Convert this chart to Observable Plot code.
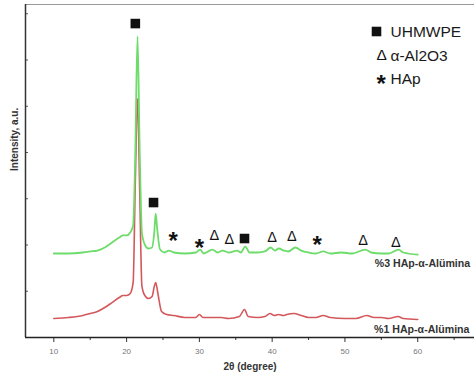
<!DOCTYPE html>
<html>
<head>
<meta charset="utf-8">
<script src="https://cdn.jsdelivr.net/npm/d3@7"></script>
<script src="https://cdn.jsdelivr.net/npm/@observablehq/plot@0.6"></script>
<style>
  html, body { margin: 0; padding: 0; background: #fff; overflow: hidden; }
  #chart svg { display: block; font-family: "Liberation Sans", Arial, sans-serif; }
</style>
</head>
<body>
<div id="chart"></div>
<script>
// 2θ (degree) and intensity (a.u.)
const green2theta = [10,12,14,15,16,17,18,19,19.5,20,20.5,20.9,21.2,21.5,21.8,22.1,22.5,23,23.5,23.8,24,24.2,24.6,25.2,25.8,26.5,28,29.5,30.1,30.6,31.8,32.5,33.2,34,35.2,35.7,36.3,36.9,38,39,39.8,40.4,40.9,41.6,42.2,43.2,44,45,46,47,48,49.5,51,52.8,53.6,55,56,57.4,58,60];
const greenI      = [908,908,919,930,940,973,1027,1081,1103,1103,1135,1211,2021,3254,2021,1135,1005,962,973,1135,1340,1178,951,919,940,919,908,919,951,908,951,919,940,919,940,919,984,919,919,930,973,940,962,940,930,973,940,919,908,930,908,919,908,951,919,908,908,951,919,897];
const red2theta   = [10,12,14,15,16,17,18,19,19.5,20,20.5,20.9,21.2,21.5,21.8,22.1,22.5,23,23.5,23.8,24,24.3,24.8,25.5,26.5,28,29.5,30,30.5,32,33,34,35.5,36.2,36.7,38,39,39.7,40.3,40.9,41.5,42,43,44,45,46,47,48,50,51.5,53,54,55,56,57.3,58,60];
const redI        = [205,216,238,259,281,324,378,432,454,454,476,595,1697,2584,1589,562,454,422,443,551,595,476,281,249,238,216,216,249,216,216,216,205,227,303,227,216,227,259,238,249,238,249,259,238,216,216,238,216,205,205,238,216,216,205,227,205,195];

// peak markers
const squares2theta = [21.2, 23.7, 36.2];
const squaresI      = [3394, 1459, 1070];
const triangles2theta = [32.05, 34.1, 40.0, 42.7, 52.5, 57.0];
const trianglesI      = [1103, 1059, 1081, 1092, 1049, 1027];
const stars2theta = [26.4, 30.0, 46.2];
const starsI      = [1103, 1027, 1059];

// series labels
const seriesNames = ["%3 HAp-α-Alümina", "%1 HAp-α-Alümina"];
const seriesLabel2theta = [54.1, 54.0];
const seriesLabelI = [800, 86];

// legend
const legendNames = ["UHMWPE", "α-Al2O3", "HAp"];
const legendGlyphs = [null, "Δ", "*"];

// axes
const xDomain = [6.11, 67.8];
const yDomain = [0, 3600];
const xMajor = [10, 20, 30, 40, 50, 60];
const xMinor = [15, 25, 35, 45, 55, 65];
const yTicks = [500, 1000, 1500, 2000, 2500, 3000, 3500];

const green = green2theta.map((x, i) => ({x, y: greenI[i]}));
const red = red2theta.map((x, i) => ({x, y: redI[i]}));
const sq = squares2theta.map((x, i) => ({x, y: squaresI[i]}));
const tri = triangles2theta.map((x, i) => ({x, y: trianglesI[i]}));
const st = stars2theta.map((x, i) => ({x, y: starsI[i]}));
const labels = seriesNames.map((t, i) => ({t, x: seriesLabel2theta[i], y: seriesLabelI[i]}));

const font = "Liberation Sans, Arial, sans-serif";

const legendMarks = [];
legendNames.forEach((name, i) => {
  legendMarks.push(Plot.text([name], {text: d => d, frameAnchor: "top-left", dx: 365, dy: 28 + i * 23.5,
    textAnchor: "start", lineAnchor: "middle", fontSize: 15.5, fill: "#1a1a1a", fontFamily: font}));
});

const chart = Plot.plot({
  width: 474,
  height: 376,
  marginLeft: 25,
  marginRight: 0,
  marginTop: 4,
  marginBottom: 39,
  style: {fontFamily: font, background: "#fff", overflow: "hidden"},
  x: {domain: xDomain},
  y: {domain: yDomain},
  marks: [
    Plot.ruleY([yDomain[1]], {stroke: "#999", strokeWidth: 1.2}),
    Plot.line(red, {x: "x", y: "y", stroke: "#d4585b", strokeWidth: 1.6, curve: "monotone-x"}),
    Plot.line(green, {x: "x", y: "y", stroke: "#6ddc6a", strokeWidth: 1.8, curve: "monotone-x"}),
    Plot.dot(sq, {x: "x", y: "y", symbol: "square", r: 5.4, fill: "#111", stroke: null}),
    Plot.text(tri, {x: "x", y: "y", text: () => "Δ", fontSize: 14.5, fill: "#111", fontFamily: font}),
    Plot.text(st, {x: "x", y: "y", text: () => "*", fontSize: 24, fontWeight: "bold", fill: "#111", dy: 6, fontFamily: font}),
    Plot.text(labels, {x: "x", y: "y", text: "t", textAnchor: "start", fontSize: 10.6, fontWeight: "bold", fill: "#333", fontFamily: font}),
    // legend symbols
    Plot.dot([0], {frameAnchor: "top-left", dx: 351, dy: 27, symbol: "square", r: 5.4, fill: "#111", stroke: null}),
    Plot.text([legendGlyphs[1]], {text: d => d, frameAnchor: "top-left", dx: 351, dy: 51, lineAnchor: "middle", fontSize: 15.5, fill: "#111", fontFamily: font}),
    Plot.text([legendGlyphs[2]], {text: d => d, frameAnchor: "top-left", dx: 351, dy: 80, lineAnchor: "middle", fontSize: 24, fontWeight: "bold", fill: "#111", fontFamily: font}),
    ...legendMarks,
    // axes
    Plot.axisX({ticks: xMajor, tickSize: 5, tickPadding: 6, fontSize: 8, color: "#777", stroke: "#333", label: null}),
    Plot.axisX({ticks: xMinor, tickSize: 3, tickFormat: () => "", stroke: "#333", label: null}),
    Plot.axisY({ticks: yTicks, tickSize: 3, dx: 3, tickFormat: () => "", stroke: "#555", label: null}),
    Plot.ruleX([xDomain[0]], {stroke: "#333", strokeWidth: 1.5}),
    Plot.ruleY([yDomain[0]], {stroke: "#222", strokeWidth: 1.5}),
    Plot.text(["2θ (degree)"], {text: d => d, frameAnchor: "bottom", dy: 29, lineAnchor: "middle", fontSize: 10, fontWeight: "bold", fill: "#333", fontFamily: font}),
    Plot.text(["Intensity, a.u."], {text: d => d, frameAnchor: "left", dx: -11, rotate: -90, fontSize: 10, fontWeight: "bold", fill: "#333", fontFamily: font})
  ]
});
document.getElementById("chart").appendChild(chart);
</script>
</body>
</html>
